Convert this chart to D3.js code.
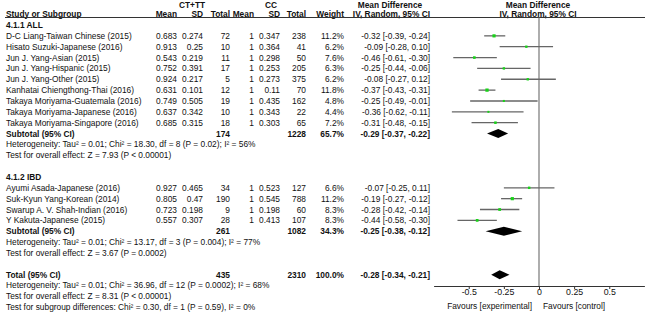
<!DOCTYPE html>
<html>
<head>
<meta charset="utf-8">
<script src="https://cdn.jsdelivr.net/npm/d3@7"></script>
<style>
  body { margin: 0; background: #fff; }
  text { font-family: "Liberation Sans", Arial, sans-serif; font-size: 8.35px; fill: #111; }
  .b { font-weight: bold; }
</style>
</head>
<body>
<div id="chart"></div>
<script>
// Dimensions
const width = 650, height = 314;

// Sous-groupe 4.1.1 ALL
const allStudies = ["D-C Liang-Taiwan Chinese (2015)", "Hisato Suzuki-Japanese (2016)", "Jun J. Yang-Asian (2015)",
  "Jun J. Yang-Hispanic (2015)", "Jun J. Yang-Other (2015)", "Kanhatai Chiengthong-Thai (2016)",
  "Takaya Moriyama-Guatemala (2016)", "Takaya Moriyama-Japanese (2016)", "Takaya Moriyama-Singapore (2016)"];
const allCtMean = [0.683, 0.913, 0.543, 0.752, 0.924, 0.631, 0.749, 0.637, 0.685];
const allCtSd = [0.274, 0.25, 0.219, 0.391, 0.217, 0.101, 0.505, 0.342, 0.315];
const allCtTotal = [72, 10, 11, 17, 5, 12, 19, 10, 18];
const allCcMean = [1, 1, 1, 1, 1, 1, 1, 1, 1];
const allCcSd = [0.347, 0.364, 0.298, 0.253, 0.273, 0.11, 0.435, 0.343, 0.303];
const allCcTotal = [238, 41, 50, 205, 375, 70, 162, 22, 65];
const allWeight = [11.2, 6.2, 7.6, 6.3, 6.2, 11.8, 4.8, 4.4, 7.2];
const allMd = [-0.32, -0.09, -0.46, -0.25, -0.08, -0.37, -0.25, -0.36, -0.31];
const allLo = [-0.39, -0.28, -0.61, -0.44, -0.27, -0.43, -0.49, -0.62, -0.48];
const allHi = [-0.24, 0.10, -0.30, -0.06, 0.12, -0.31, -0.01, -0.11, -0.15];

// Sous-groupe 4.1.2 IBD
const ibdStudies = ["Ayumi Asada-Japanese (2016)", "Suk-Kyun Yang-Korean (2014)",
  "Swarup A. V. Shah-Indian (2016)", "Y Kakuta-Japanese (2015)"];
const ibdCtMean = [0.927, 0.805, 0.723, 0.557];
const ibdCtSd = [0.465, 0.47, 0.198, 0.307];
const ibdCtTotal = [34, 190, 9, 28];
const ibdCcMean = [1, 1, 1, 1];
const ibdCcSd = [0.523, 0.545, 0.198, 0.413];
const ibdCcTotal = [127, 788, 60, 107];
const ibdWeight = [6.6, 11.2, 8.3, 8.3];
const ibdMd = [-0.07, -0.19, -0.28, -0.44];
const ibdLo = [-0.25, -0.27, -0.42, -0.58];
const ibdHi = [0.11, -0.12, -0.14, -0.30];

// Sous-totaux et total : [ctTotal, ccTotal, weight, md, lo, hi]
const allSubtotal = [174, 1228, 65.7, -0.29, -0.37, -0.22];
const ibdSubtotal = [261, 1082, 34.3, -0.25, -0.38, -0.12];
const overall = [435, 2310, 100.0, -0.28, -0.34, -0.21];

const allHetero = "Heterogeneity: Tau² = 0.01; Chi² = 18.30, df = 8 (P = 0.02); I² = 56%";
const allEffect = "Test for overall effect: Z = 7.93 (P < 0.00001)";
const ibdHetero = "Heterogeneity: Tau² = 0.01; Chi² = 13.17, df = 3 (P = 0.004); I² = 77%";
const ibdEffect = "Test for overall effect: Z = 3.67 (P = 0.0002)";
const totHetero = "Heterogeneity: Tau² = 0.01; Chi² = 36.96, df = 12 (P = 0.0002); I² = 68%";
const totEffect = "Test for overall effect: Z = 8.31 (P < 0.00001)";
const subgroupTest = "Test for subgroup differences: Chi² = 0.30, df = 1 (P = 0.59), I² = 0%";

const axisTicks = [-0.5, -0.25, 0, 0.25, 0.5];

const svg = d3.select("#chart").append("svg")
  .attr("width", width)
  .attr("height", height);

// Echelles
const y = d3.scaleLinear().domain([0, 26]).range([25, 307.2]);
const x = d3.scaleLinear().domain([-0.75, 0.75]).range([433.6, 644.4]);
const cols = { ctMean: 177, ctSd: 203, ctTotal: 230, ccMean: 254, ccSd: 280, ccTotal: 306, weight: 344, ci: 430 };

const fmtCI = (m, l, h) => `${m.toFixed(2)} [${l.toFixed(2)}, ${h.toFixed(2)}]`;

function txt(t, xx, row, anchor, bold) {
  svg.append("text")
    .attr("x", xx).attr("y", y(row) + 3)
    .attr("text-anchor", anchor || "start")
    .attr("class", bold ? "b" : null)
    .text(t);
}

// En-têtes
const h1 = 5, h2 = 15;
[["CT+TT", 192], ["CC", 271], ["Mean Difference", 390], ["Mean Difference", 538]].forEach(d => {
  svg.append("text").attr("class", "b").attr("x", d[1]).attr("y", h1 + 3)
    .attr("text-anchor", "middle").text(d[0]);
});
svg.append("text").attr("class", "b").attr("x", 6).attr("y", h2 + 1.5).text("Study or Subgroup");
[["Mean", cols.ctMean], ["SD", cols.ctSd], ["Total", cols.ctTotal], ["Mean", cols.ccMean],
 ["SD", cols.ccSd], ["Total", cols.ccTotal], ["Weight", cols.weight], ["IV, Random, 95% CI", cols.ci]].forEach(d => {
  svg.append("text").attr("class", "b").attr("x", d[1]).attr("y", h2 + 1.5)
    .attr("text-anchor", "end").text(d[0]);
});
svg.append("text").attr("class", "b").attr("x", 538).attr("y", h2 + 1.5)
  .attr("text-anchor", "middle").text("IV, Random, 95% CI");
svg.append("line").attr("x1", 5).attr("x2", 645).attr("y1", 17.5).attr("y2", 17.5)
  .attr("stroke", "#333").attr("stroke-width", 1);

// Ligne zéro
svg.append("line")
  .attr("x1", x(0)).attr("x2", x(0)).attr("y1", 17.5).attr("y2", 286)
  .attr("stroke", "#777").attr("stroke-width", 1.2);

function drawGroup(title, startRow, names, ctM, ctS, ctN, ccM, ccS, ccN, w, md, lo, hi, sub, het, eff) {
  txt(title, 6, startRow, "start", true);
  names.forEach((name, i) => {
    const r = startRow + 1 + i;
    txt(name, 6, r);
    txt(String(ctM[i]), cols.ctMean, r, "end");
    txt(String(ctS[i]), cols.ctSd, r, "end");
    txt(String(ctN[i]), cols.ctTotal, r, "end");
    txt(String(ccM[i]), cols.ccMean, r, "end");
    txt(String(ccS[i]), cols.ccSd, r, "end");
    txt(String(ccN[i]), cols.ccTotal, r, "end");
    txt(w[i].toFixed(1) + "%", cols.weight, r, "end");
    txt(fmtCI(md[i], lo[i], hi[i]), cols.ci, r, "end");

    // Intervalle et carré
    svg.append("line")
      .attr("x1", x(lo[i])).attr("x2", x(hi[i]))
      .attr("y1", y(r)).attr("y2", y(r))
      .attr("stroke", "#666").attr("stroke-width", 1.3);
    const s = 0.95 * Math.sqrt(w[i]);
    svg.append("rect")
      .attr("x", x(md[i]) - s / 2).attr("y", y(r) - s / 2)
      .attr("width", s).attr("height", s)
      .attr("fill", "#19d219");
  });
  const sr = startRow + 1 + names.length;
  drawSummary("Subtotal (95% CI)", sr, sub);
  txt(het, 6, sr + 1);
  txt(eff, 6, sr + 2);
}

function drawSummary(label, r, d) {
  txt(label, 6, r, "start", true);
  txt(String(d[0]), cols.ctTotal, r, "end", true);
  txt(String(d[1]), cols.ccTotal, r, "end", true);
  txt(d[2].toFixed(1) + "%", cols.weight, r, "end", true);
  txt(fmtCI(d[3], d[4], d[5]), cols.ci, r, "end", true);
  const cy = y(r);
  svg.append("path")
    .attr("d", `M${x(d[4])},${cy} L${x(d[3])},${cy - 4.5} L${x(d[5])},${cy} L${x(d[3])},${cy + 4.5} Z`)
    .attr("fill", "#000");
}

drawGroup("4.1.1 ALL", 0, allStudies, allCtMean, allCtSd, allCtTotal, allCcMean, allCcSd, allCcTotal,
  allWeight, allMd, allLo, allHi, allSubtotal, allHetero, allEffect);
drawGroup("4.1.2 IBD", 14, ibdStudies, ibdCtMean, ibdCtSd, ibdCtTotal, ibdCcMean, ibdCcSd, ibdCcTotal,
  ibdWeight, ibdMd, ibdLo, ibdHi, ibdSubtotal, ibdHetero, ibdEffect);

drawSummary("Total (95% CI)", 23, overall);
txt(totHetero, 6, 24);
txt(totEffect, 6, 25);
txt(subgroupTest, 6, 26);

// Axe
const axis = svg.append("g")
  .attr("transform", "translate(0,286)")
  .call(d3.axisBottom(x).tickValues(axisTicks).tickFormat(d => String(d)).tickSize(3).tickSizeOuter(0));
axis.select(".domain").attr("stroke", "#333");
axis.selectAll(".tick line").attr("stroke", "#333");
axis.selectAll(".tick text").attr("dy", "0.5em").attr("y", 4.5)
  .style("font-family", "Liberation Sans, Arial, sans-serif").style("font-size", "8.8px").attr("fill", "#111");

svg.append("text").attr("x", 532).attr("y", 309).attr("text-anchor", "end").text("Favours [experimental]");
svg.append("text").attr("x", 543).attr("y", 309).text("Favours [control]");
</script>
</body>
</html>
